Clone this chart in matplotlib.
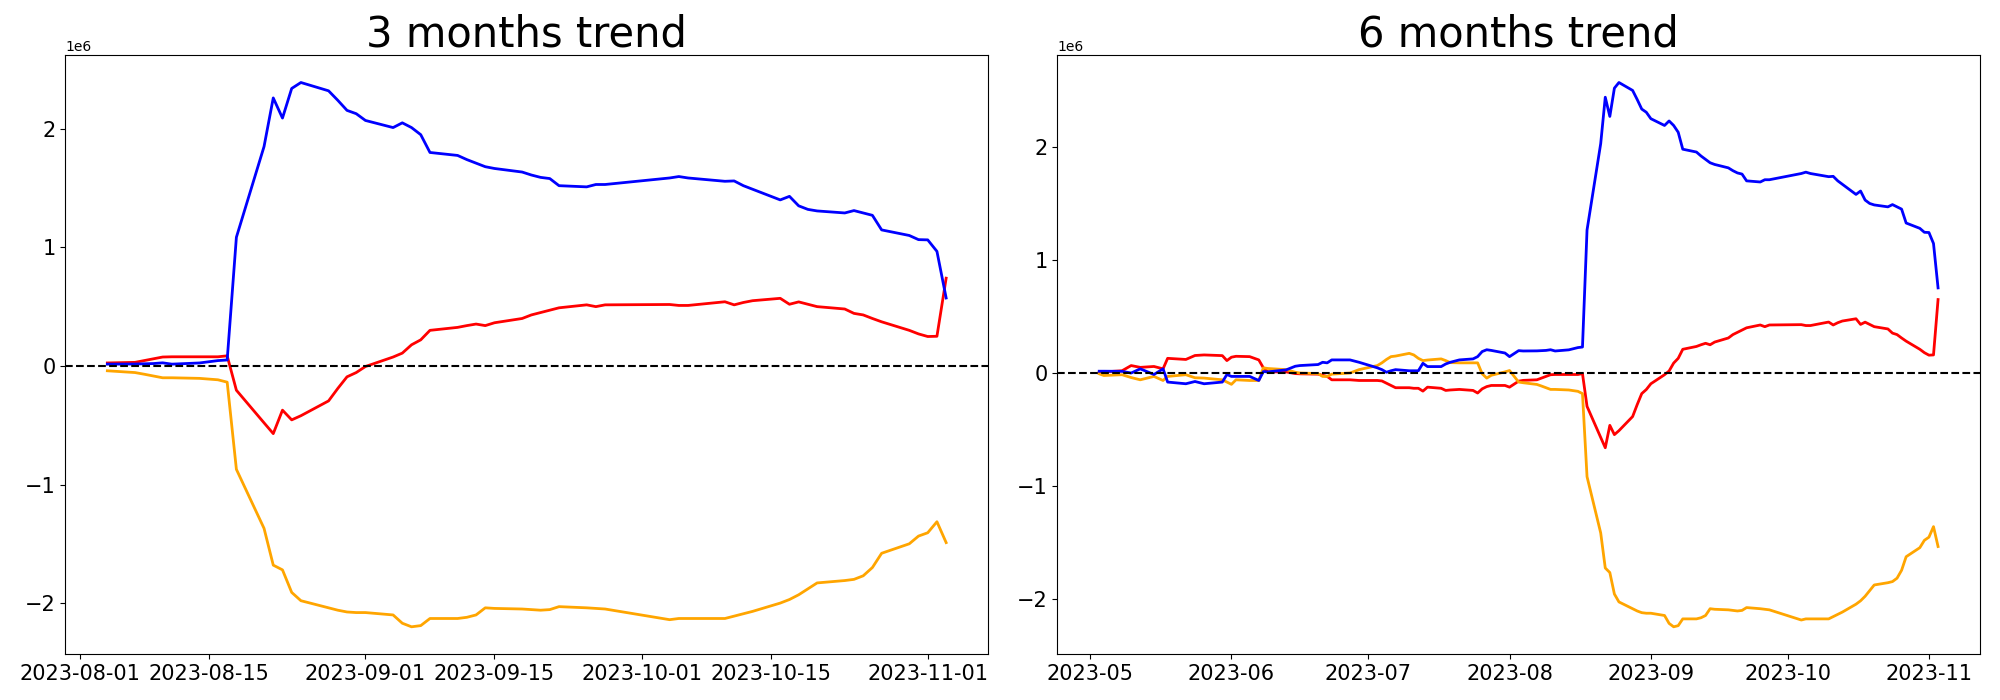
import pandas as pd
import matplotlib
matplotlib.use('Agg')
import matplotlib.pyplot as plt

# trading days, last 3 months
dates_3m = ['2023-08-04', '2023-08-07', '2023-08-08', '2023-08-09', '2023-08-10', '2023-08-11',
            '2023-08-14', '2023-08-16', '2023-08-17', '2023-08-18', '2023-08-21', '2023-08-22',
            '2023-08-23', '2023-08-24', '2023-08-25', '2023-08-28', '2023-08-29', '2023-08-30',
            '2023-08-31', '2023-09-01', '2023-09-04', '2023-09-05', '2023-09-06', '2023-09-07',
            '2023-09-08', '2023-09-11', '2023-09-12', '2023-09-13', '2023-09-14', '2023-09-15',
            '2023-09-18', '2023-09-19', '2023-09-20', '2023-09-21', '2023-09-22', '2023-09-25',
            '2023-09-26', '2023-09-27', '2023-10-04', '2023-10-05', '2023-10-06', '2023-10-10',
            '2023-10-11', '2023-10-12', '2023-10-13', '2023-10-16', '2023-10-17', '2023-10-18',
            '2023-10-19', '2023-10-20', '2023-10-23', '2023-10-24', '2023-10-25', '2023-10-26',
            '2023-10-27', '2023-10-30', '2023-10-31', '2023-11-01', '2023-11-02', '2023-11-03']

blue_3m = [0.015, 0.016, 0.018, 0.02, 0.026, 0.015, 0.025, 0.045, 0.05, 1.085, 1.85, 2.26, 2.09, 2.34, 2.39,
           2.32, 2.24, 2.155, 2.127, 2.07, 2.01, 2.05, 2.01, 1.95, 1.80, 1.775, 1.74, 1.71, 1.68, 1.665,
           1.635, 1.61, 1.59, 1.58, 1.52, 1.51, 1.53, 1.53, 1.585, 1.597, 1.585, 1.557, 1.56, 1.52, 1.49,
           1.40, 1.43, 1.35, 1.32, 1.307, 1.29, 1.31, 1.29, 1.27, 1.147, 1.10, 1.065, 1.063, 0.966, 0.573]
red_3m = [0.025, 0.03, 0.045, 0.06, 0.075, 0.077, 0.077, 0.077, 0.085, -0.205, -0.48, -0.571, -0.373, -0.455,
          -0.42, -0.295, -0.19, -0.092, -0.056, -0.005, 0.075, 0.108, 0.178, 0.22, 0.30, 0.325, 0.34, 0.353,
          0.34, 0.364, 0.40, 0.43, 0.45, 0.47, 0.49, 0.515, 0.50, 0.515, 0.518, 0.51, 0.51, 0.541, 0.515,
          0.535, 0.55, 0.57, 0.52, 0.54, 0.52, 0.50, 0.48, 0.443, 0.43, 0.40, 0.372, 0.30, 0.27, 0.248,
          0.25, 0.74]
orange_3m = [-0.041, -0.056, -0.07, -0.085, -0.10, -0.10, -0.105, -0.117, -0.137, -0.872, -1.37, -1.68, -1.72,
             -1.91, -1.98, -2.04, -2.06, -2.075, -2.08, -2.08, -2.10, -2.17, -2.20, -2.19, -2.13, -2.13, -2.12,
             -2.10, -2.04, -2.045, -2.05, -2.055, -2.06, -2.055, -2.03, -2.04, -2.045, -2.05, -2.14, -2.13,
             -2.13, -2.13, -2.11, -2.09, -2.07, -2.0, -1.97, -1.93, -1.88, -1.83, -1.81, -1.80, -1.77, -1.70,
             -1.58, -1.50, -1.435, -1.407, -1.314, -1.49]

# last 6 months
dates_6m = ['2023-05-03', '2023-05-04', '2023-05-08', '2023-05-10', '2023-05-12', '2023-05-15', '2023-05-17',
            '2023-05-18', '2023-05-22', '2023-05-24', '2023-05-26', '2023-05-30', '2023-05-31', '2023-06-01',
            '2023-06-02', '2023-06-05', '2023-06-07', '2023-06-08', '2023-06-09', '2023-06-13', '2023-06-15',
            '2023-06-16', '2023-06-20', '2023-06-21', '2023-06-22', '2023-06-23', '2023-06-27', '2023-06-29',
            '2023-07-03', '2023-07-04', '2023-07-05', '2023-07-06', '2023-07-07', '2023-07-10', '2023-07-11',
            '2023-07-12', '2023-07-13', '2023-07-14', '2023-07-17', '2023-07-18', '2023-07-19', '2023-07-21',
            '2023-07-24', '2023-07-25', '2023-07-26', '2023-07-27', '2023-07-28', '2023-07-31', '2023-08-01',
            '2023-08-03'] + dates_3m

blue_6m = [0.016, 0.016, 0.015, 0.0, 0.037, -0.013, 0.037, -0.08, -0.095, -0.075, -0.095, -0.08, -0.013,
           -0.03, -0.03, -0.03, -0.066, 0.013, 0.01, 0.028, 0.06, 0.066, 0.075, 0.095, 0.09, 0.116, 0.116,
           0.095, 0.046, 0.03, 0.007, 0.02, 0.03, 0.02, 0.02, 0.02, 0.086, 0.057, 0.057, 0.08, 0.095, 0.116,
           0.125, 0.145, 0.19, 0.206, 0.20, 0.177, 0.145, 0.198,
           0.195, 0.196, 0.198, 0.20, 0.206, 0.195, 0.205, 0.225, 0.23, 1.265, 2.03, 2.44, 2.27, 2.52, 2.57,
           2.50, 2.42, 2.335, 2.307, 2.25, 2.19, 2.23, 2.19, 2.13, 1.98, 1.955, 1.92, 1.89, 1.86, 1.845,
           1.815, 1.79, 1.77, 1.76, 1.70, 1.69, 1.71, 1.71, 1.765, 1.777, 1.765, 1.737, 1.74, 1.70, 1.67,
           1.58, 1.61, 1.53, 1.50, 1.487, 1.47, 1.49, 1.47, 1.45, 1.327, 1.28, 1.245, 1.243, 1.146, 0.753]
red_6m = [0.007, 0.01, 0.02, 0.066, 0.05, 0.058, 0.037, 0.13, 0.12, 0.155, 0.16, 0.154, 0.11, 0.14, 0.148,
          0.145, 0.116, 0.046, 0.01, 0.01, -0.005, -0.007, -0.01, -0.02, -0.03, -0.06, -0.06, -0.066, -0.066,
          -0.07, -0.09, -0.11, -0.13, -0.13, -0.135, -0.135, -0.16, -0.125, -0.135, -0.154, -0.15, -0.145,
          -0.154, -0.177, -0.14, -0.12, -0.11, -0.11, -0.125, -0.072,
          -0.065, -0.06, -0.045, -0.03, -0.015, -0.013, -0.013, -0.013, -0.005, -0.295, -0.57, -0.661, -0.463,
          -0.545, -0.51, -0.385, -0.28, -0.182, -0.146, -0.095, -0.015, 0.018, 0.088, 0.13, 0.21, 0.235, 0.25,
          0.263, 0.25, 0.274, 0.31, 0.34, 0.36, 0.38, 0.40, 0.425, 0.41, 0.425, 0.428, 0.42, 0.42, 0.451,
          0.425, 0.445, 0.46, 0.48, 0.43, 0.45, 0.43, 0.41, 0.39, 0.353, 0.34, 0.31, 0.282, 0.21, 0.18, 0.158,
          0.16, 0.65]
orange_6m = [-0.007, -0.022, -0.015, -0.04, -0.06, -0.03, -0.066, -0.03, -0.015, -0.042, -0.045, -0.06, -0.08,
             -0.10, -0.06, -0.066, -0.066, 0.046, 0.04, 0.03, 0.007, 0.0, -0.005, -0.03, -0.03, -0.01, 0.0,
             0.03, 0.066, 0.09, 0.12, 0.145, 0.15, 0.174, 0.16, 0.13, 0.11, 0.115, 0.125, 0.11, 0.092, 0.09,
             0.09, 0.09, -0.007, -0.045, -0.02, 0.01, 0.022, -0.08,
             -0.086, -0.101, -0.115, -0.13, -0.145, -0.145, -0.15, -0.162, -0.182, -0.917, -1.415, -1.725,
             -1.765, -1.955, -2.025, -2.085, -2.105, -2.12, -2.125, -2.125, -2.145, -2.215, -2.245, -2.235,
             -2.175, -2.175, -2.165, -2.145, -2.085, -2.09, -2.095, -2.10, -2.105, -2.10, -2.075, -2.085, -2.09,
             -2.095, -2.185, -2.175, -2.175, -2.175, -2.155, -2.135, -2.115, -2.045, -2.015, -1.975, -1.925,
             -1.875, -1.855, -1.845, -1.815, -1.745, -1.625, -1.545, -1.48, -1.452, -1.359, -1.535]

panels = [('3 months trend', dates_3m, blue_3m, red_3m, orange_3m),
          ('6 months trend', dates_6m, blue_6m, red_6m, orange_6m)]

fig, axes = plt.subplots(1, 2, figsize=(20, 7), dpi=100)
plt.subplots_adjust(left=0.0327, right=0.99, bottom=0.0657, top=0.921, wspace=0.075)

for ax, (title, dates, blue, red, orange) in zip(axes, panels):
    x = pd.to_datetime(dates)
    ax.plot(x, [v * 1e6 for v in red], color='red', linewidth=2)
    ax.plot(x, [v * 1e6 for v in orange], color='orange', linewidth=2)
    ax.plot(x, [v * 1e6 for v in blue], color='blue', linewidth=2)
    ax.axhline(0, color='black', linestyle='--', linewidth=1.5)
    ax.set_title(title, fontsize=30)
    ax.tick_params(labelsize=15)

plt.savefig('out.png')
